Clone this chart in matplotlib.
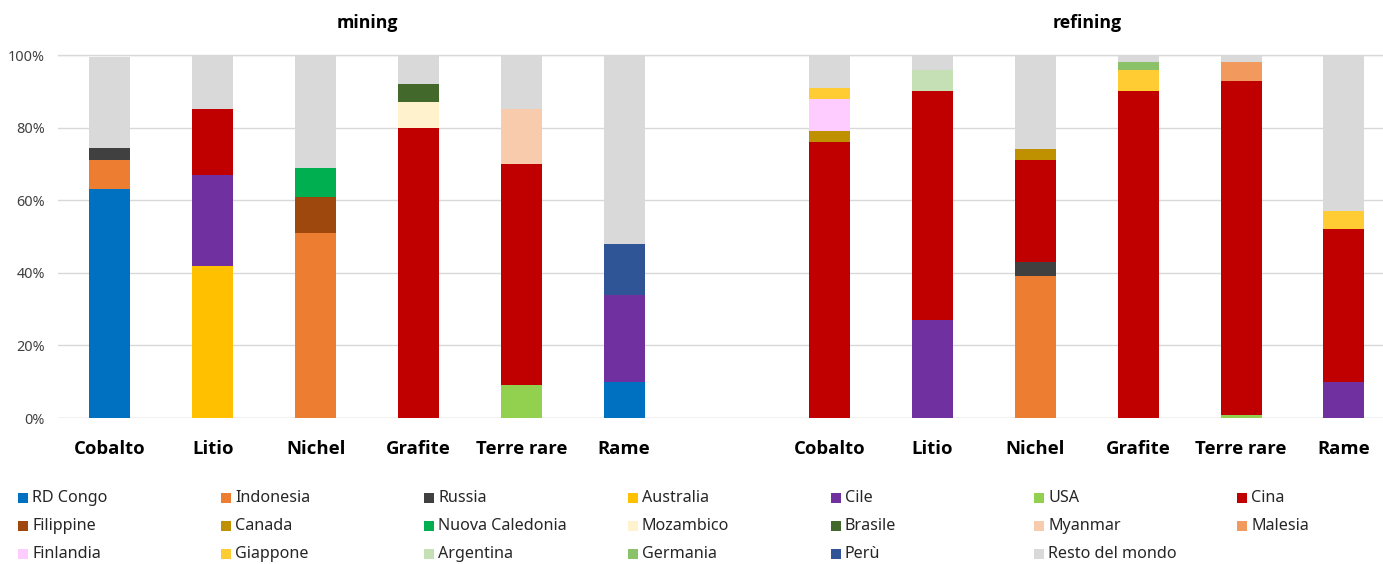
import matplotlib
matplotlib.use("Agg")
import matplotlib.pyplot as plt
from matplotlib.patches import Rectangle
import numpy as np

plt.rcParams['font.family'] = ['Noto Sans', 'DejaVu Sans']
BOLD_FAMILY = ['Open Sans', 'DejaVu Sans']

categories = ["Cobalto", "Litio", "Nichel", "Grafite", "Terre rare", "Rame"]
groups = ["mining", "refining"]

countries = ["RD Congo", "Indonesia", "Russia", "Australia", "Cile", "USA", "Cina",
             "Filippine", "Canada", "Nuova Caledonia", "Mozambico", "Brasile", "Myanmar", "Malesia",
             "Finlandia", "Giappone", "Argentina", "Germania", "Perù", "Resto del mondo"]

colors = ["#0070C0", "#ED7D31", "#404040", "#FFC000", "#7030A0", "#92D050", "#C00000",
          "#9E480E", "#BF9000", "#00B050", "#FFF2CC", "#43682B", "#F8CBAD", "#F2995D",
          "#FFCCFF", "#FFCC33", "#C5E0B4", "#8BC168", "#2F5597", "#D9D9D9"]

# values (%): mining Cobalto..Rame, then refining Cobalto..Rame
rd_congo   = [63, 0, 0, 0, 0, 10,   0, 0, 0, 0, 0, 0]
indonesia  = [8, 0, 51, 0, 0, 0,    0, 0, 39, 0, 0, 0]
russia     = [3.5, 0, 0, 0, 0, 0,   0, 0, 4, 0, 0, 0]
australia  = [0, 42, 0, 0, 0, 0,    0, 0, 0, 0, 0, 0]
cile       = [0, 25, 0, 0, 0, 24,   0, 27, 0, 0, 0, 10]
usa        = [0, 0, 0, 0, 9, 0,     0, 0, 0, 0, 0.7, 0]
cina       = [0, 18, 0, 80, 61, 0,  76, 63, 28, 90, 92, 42]
filippine  = [0, 0, 10, 0, 0, 0,    0, 0, 0, 0, 0, 0]
canada     = [0, 0, 0, 0, 0, 0,     3, 0, 3, 0, 0, 0]
nuova_cal  = [0, 0, 8, 0, 0, 0,     0, 0, 0, 0, 0, 0]
mozambico  = [0, 0, 0, 7, 0, 0,     0, 0, 0, 0, 0, 0]
brasile    = [0, 0, 0, 5, 0, 0,     0, 0, 0, 0, 0, 0]
myanmar    = [0, 0, 0, 0, 15, 0,    0, 0, 0, 0, 0, 0]
malesia    = [0, 0, 0, 0, 0, 0,     0, 0, 0, 0, 5.3, 0]
finlandia  = [0, 0, 0, 0, 0, 0,     9, 0, 0, 0, 0, 0]
giappone   = [0, 0, 0, 0, 0, 0,     3, 0, 0, 6, 0, 5]
argentina  = [0, 0, 0, 0, 0, 0,     0, 6, 0, 0, 0, 0]
germania   = [0, 0, 0, 0, 0, 0,     0, 0, 0, 2, 0, 0]
peru       = [0, 0, 0, 0, 0, 14,    0, 0, 0, 0, 0, 0]
resto      = [25, 15, 31, 8, 15, 52, 9, 4, 26, 2, 2, 43]

series = [rd_congo, indonesia, russia, australia, cile, usa, cina,
          filippine, canada, nuova_cal, mozambico, brasile, myanmar, malesia,
          finlandia, giappone, argentina, germania, peru, resto]

W, H = 1383, 564
fig = plt.figure(figsize=(W / 100, H / 100), dpi=100)
ax = fig.add_axes([58 / W, 1 - 418 / H, 1 - 58 / W, (418 - 55) / H])

x = np.array(list(range(6)) + list(range(7, 13)), dtype=float)
bottom = np.zeros(len(x))
for name, vals, col in zip(countries, series, colors):
    v = np.array(vals, dtype=float) / 100.0
    ax.bar(x, v, width=0.4, bottom=bottom, color=col, edgecolor='none', zorder=3)
    bottom += v

ax.set_xlim(-0.505, 12.38)
ax.set_ylim(0, 1.0)
ax.set_yticks(np.arange(0, 1.01, 0.2))
ax.set_yticklabels([f"{int(round(t * 100))}%" for t in np.arange(0, 1.01, 0.2)],
                   fontsize=10.4, color="#404040")
ax.set_xticks(x)
ax.set_xticklabels(categories * 2, fontsize=13.3, fontweight='bold', color='black',
                   family=BOLD_FAMILY)
ax.tick_params(axis='both', length=0)
ax.tick_params(axis='x', pad=16)
ax.tick_params(axis='y', pad=9.5)
ax.yaxis.grid(True, color="#D9D9D9", linewidth=1, zorder=0)
ax.set_axisbelow(True)
for s in ax.spines.values():
    s.set_visible(False)
ax.axhline(0, color="#D9D9D9", linewidth=1, zorder=1)
ax.axhline(1, color="#D9D9D9", linewidth=1, zorder=1, clip_on=False)

# group titles
for gi, g in enumerate(groups):
    xc = x[gi * 6: gi * 6 + 6].mean()
    ax.text(xc, 1.0 + 32 / 363, g, ha='center', va='center', fontsize=12.8,
            fontweight='bold', family=BOLD_FAMILY, transform=ax.get_xaxis_transform())

# legend: 7 columns, row-major
ncol = 7
col_x0, col_dx = 18, 203.2
row_y0, row_dy = 498, 28
sq = 10
for i, (name, col) in enumerate(zip(countries, colors)):
    r, c = divmod(i, ncol)
    px = col_x0 + c * col_dx
    py = row_y0 + r * row_dy
    fig.patches.append(Rectangle((px / W, 1 - (py + sq / 2) / H), sq / W, sq / H,
                                 transform=fig.transFigure, facecolor=col,
                                 edgecolor='none'))
    fig.text((px + 14) / W, 1 - py / H, name, ha='left', va='center',
             fontsize=11.6, color="#262626")

fig.savefig("out.png", dpi=100)
